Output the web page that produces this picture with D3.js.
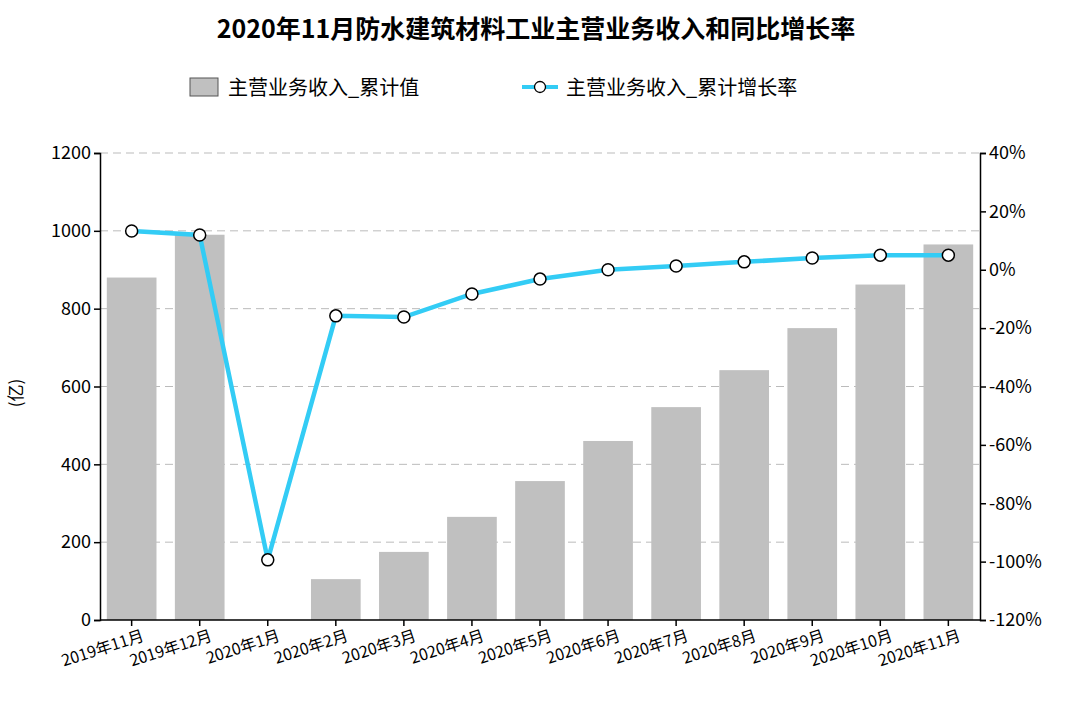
<!DOCTYPE html>
<html><head><meta charset="utf-8">
<script src="https://cdn.jsdelivr.net/npm/d3@7"></script>
<style>body{margin:0;background:#fff;font-family:"Noto Sans CJK SC",sans-serif}</style>
</head><body>
<script>
var categories = ["2019年11月","2019年12月","2020年1月","2020年2月","2020年3月","2020年4月","2020年5月","2020年6月","2020年7月","2020年8月","2020年9月","2020年10月","2020年11月"];
var revenue = [880, 990, 0, 105, 175, 265, 357, 460, 547, 642, 750, 862, 965];
var growth = [13.3, 11.9, -99.4, -15.8, -16.2, -8.3, -3.2, 0, 1.3, 2.7, 4.0, 5.0, 5.0];
var leftTicks = [0,200,400,600,800,1000,1200];
var rightTicks = [-120,-100,-80,-60,-40,-20,0,20,40];

var width = 1072, height = 704;
var L = 100, R = 980, T = 153, B = 620;
var svg = d3.select("body").append("svg").attr("width", width).attr("height", height);

var x = d3.scaleBand().domain(categories).range([L, R]).paddingInner(0.27).paddingOuter(0.1);
var y = d3.scaleLinear().domain([0, 1200]).range([B, T]);
var y2 = d3.scaleLinear().domain([-120, 40]).range([B, T]);

svg.append("text").attr("x", 536).attr("y", 38).attr("text-anchor", "middle")
    .attr("font-size", 25).attr("font-weight", "bold").text("2020年11月防水建筑材料工业主营业务收入和同比增长率");

// legend
svg.append("rect").attr("x", 190).attr("y", 78).attr("width", 28).attr("height", 18)
    .attr("fill", "#c0c0c0").attr("stroke", "#555");
svg.append("text").attr("x", 228).attr("y", 95).attr("font-size", 20).text("主营业务收入_累计值");
svg.append("line").attr("x1", 522).attr("x2", 558).attr("y1", 87).attr("y2", 87)
    .attr("stroke", "#33ccf5").attr("stroke-width", 4);
svg.append("circle").attr("cx", 540).attr("cy", 87).attr("r", 5.5).attr("fill", "#fff").attr("stroke", "#000").attr("stroke-width", 1.3);
svg.append("text").attr("x", 566).attr("y", 95).attr("font-size", 20).text("主营业务收入_累计增长率");

// grid
svg.selectAll(".grid").data(leftTicks.slice(1)).enter().append("line")
    .attr("x1", L).attr("x2", R).attr("y1", d => y(d)).attr("y2", d => y(d))
    .attr("stroke", "#bbb").attr("stroke-dasharray", "8,5");

svg.selectAll(".bar").data(revenue).enter().append("rect")
    .attr("x", (d, i) => x(categories[i])).attr("width", x.bandwidth())
    .attr("y", d => y(d)).attr("height", d => B - y(d)).attr("fill", "#c0c0c0");

var ax = svg.append("g").attr("transform", "translate(" + L + ",0)")
    .call(d3.axisLeft(y).tickValues(leftTicks).tickFormat(d3.format("d")).tickSize(6));
var ax2 = svg.append("g").attr("transform", "translate(" + R + ",0)")
    .call(d3.axisRight(y2).tickValues(rightTicks).tickFormat(d => d + "%").tickSize(6));
var axb = svg.append("g").attr("transform", "translate(0," + B + ")")
    .call(d3.axisBottom(x).tickSize(6).tickSizeOuter(0));
[ax, ax2, axb].forEach(g => {
  g.selectAll("path,line").attr("stroke", "#000").attr("stroke-width", 1.5);
  g.selectAll("text").attr("font-size", 18).attr("fill", "#000").attr("font-family", "Noto Sans CJK SC,sans-serif");
});
axb.select(".domain").attr("d", "M" + L + ",0H" + R);
axb.selectAll("text").attr("text-anchor", "end").attr("dx", "0.4em").attr("dy", "0.9em")
    .attr("transform", "rotate(-18)").attr("font-size", 16);

svg.append("text").attr("transform", "translate(22,393) rotate(-90)").attr("text-anchor", "middle")
    .attr("font-size", 17).text("(亿)");

var line = d3.line().x((d, i) => x(categories[i]) + x.bandwidth() / 2).y(d => y2(d));
svg.append("path").datum(growth).attr("d", line).attr("fill", "none")
    .attr("stroke", "#33ccf5").attr("stroke-width", 4.5);
svg.selectAll(".pt").data(growth).enter().append("circle")
    .attr("cx", (d, i) => x(categories[i]) + x.bandwidth() / 2).attr("cy", d => y2(d))
    .attr("r", 6).attr("fill", "#fff").attr("stroke", "#000").attr("stroke-width", 1.5);
</script>
</body></html>
